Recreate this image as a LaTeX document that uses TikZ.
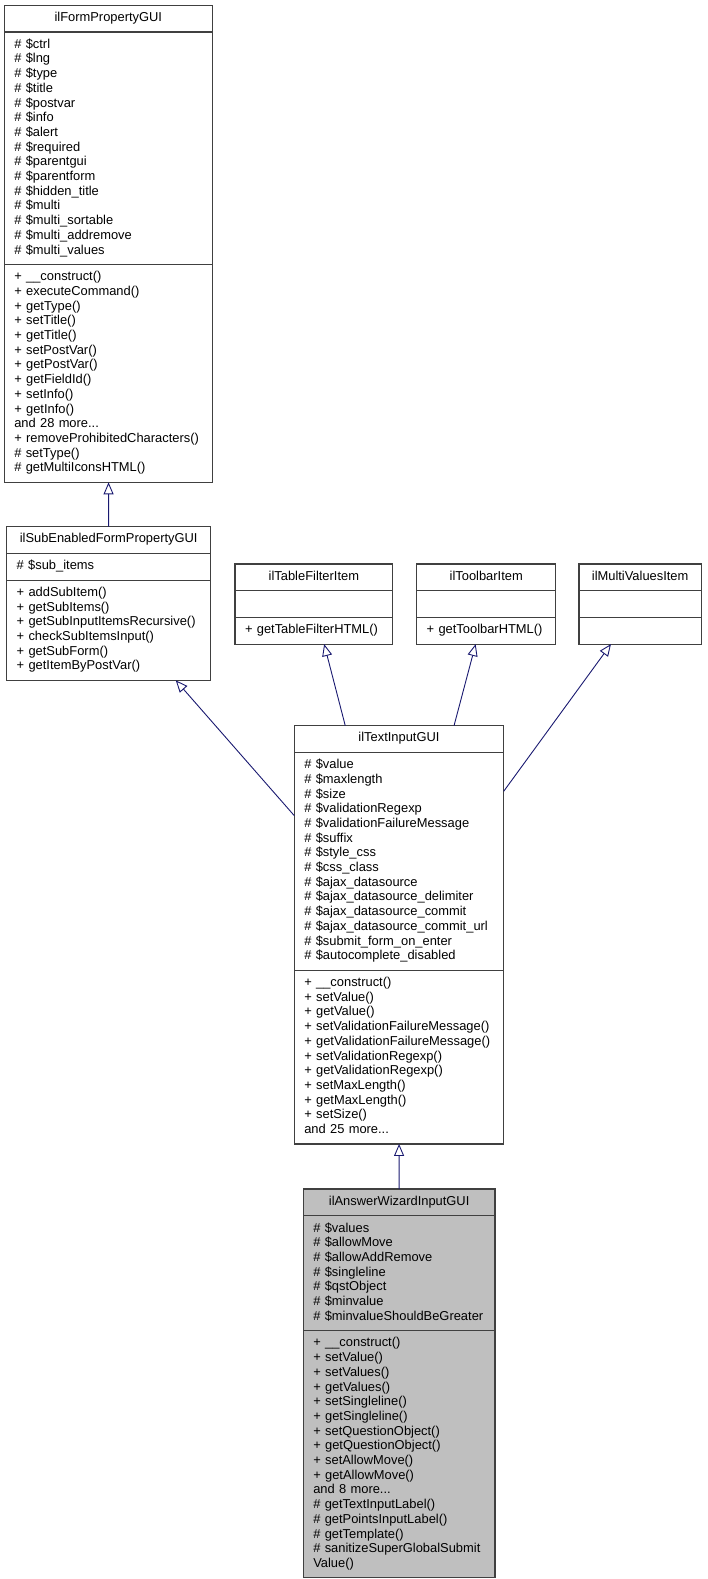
\documentclass[tikz,border=0pt]{standalone}
\usepackage{fontspec}
\setmainfont{Liberation Sans}
\usetikzlibrary{arrows.meta,shapes.multipart}
\definecolor{edgeblue}{RGB}{25,25,112}
\definecolor{boxgrey}{RGB}{191,191,191}
\definecolor{framegrey}{RGB}{64,64,64}
\newcommand{\members}[1]{\strut#1\strut}
\newcommand{\classname}[1]{\makebox[\hsize]{\strut#1}}

\begin{document}
\begin{tikzpicture}[
  x=1pt,y=-1pt,
  classbox/.style={draw=framegrey,line width=1.2pt,rectangle split,rectangle split parts=3,anchor=north west,outer sep=0pt,inner xsep=10pt,inner ysep=5.4pt,align=left,font=\fontsize{12.9}{14.7}\selectfont},
  leafbox/.style={classbox,fill=boxgrey},
  inherit/.style={-{Triangle[open,length=12pt,width=10pt]},edgeblue,line width=0.9pt}
]
\useasboundingbox (0,0) rectangle (707,1579);

% base classes
\node[classbox,text width=188pt] (formprop) at (4.3,5.3) {\classname{ilFormPropertyGUI}
  \nodepart{two}\members{\# \$ctrl\\\# \$lng\\\# \$type\\\# \$title\\\# \$postvar\\\# \$info\\\# \$alert\\\# \$required\\\# \$parentgui\\\# \$parentform\\\# \$hidden\_title\\\# \$multi\\\# \$multi\_sortable\\\# \$multi\_addremove\\\# \$multi\_values}
  \nodepart{three}\members{+ \_\_construct()\\+ executeCommand()\\+ getType()\\+ setTitle()\\+ getTitle()\\+ setPostVar()\\+ getPostVar()\\+ getFieldId()\\+ setInfo()\\+ getInfo()\\and 28 more...\\+ removeProhibitedCharacters()\\\# setType()\\\# getMultiIconsHTML()}};
\node[classbox,text width=184pt] (subenabled) at (6.7,526.7) {\classname{ilSubEnabledFormPropertyGUI}
  \nodepart{two}\members{\# \$sub\_items}
  \nodepart{three}\members{+ addSubItem()\\+ getSubItems()\\+ getSubInputItemsRecursive()\\+ checkSubItemsInput()\\+ getSubForm()\\+ getItemByPostVar()}};
\node[classbox,text width=137.7pt] (tablefilter) at (235,564) {\classname{ilTableFilterItem}
  \nodepart{two}\strut
  \nodepart{three}\members{+ getTableFilterHTML()}};
\node[classbox,text width=119pt] (toolbar) at (416.7,564) {\classname{ilToolbarItem}
  \nodepart{two}\strut
  \nodepart{three}\members{+ getToolbarHTML()}};
\node[classbox,text width=102.3pt] (multivalues) at (579,564) {\classname{ilMultiValuesItem}
  \nodepart{two}\strut
  \nodepart{three}\strut};

% derived classes
\node[classbox,text width=189.4pt] (textinput) at (294.3,725.7) {\classname{ilTextInputGUI}
  \nodepart{two}\members{\# \$value\\\# \$maxlength\\\# \$size\\\# \$validationRegexp\\\# \$validationFailureMessage\\\# \$suffix\\\# \$style\_css\\\# \$css\_class\\\# \$ajax\_datasource\\\# \$ajax\_datasource\_delimiter\\\# \$ajax\_datasource\_commit\\\# \$ajax\_datasource\_commit\_url\\\# \$submit\_form\_on\_enter\\\# \$autocomplete\_disabled}
  \nodepart{three}\members{+ \_\_construct()\\+ setValue()\\+ getValue()\\+ setValidationFailureMessage()\\+ getValidationFailureMessage()\\+ setValidationRegexp()\\+ getValidationRegexp()\\+ setMaxLength()\\+ getMaxLength()\\+ setSize()\\and 25 more...}};
\node[leafbox,text width=171.7pt] (answerwizard) at (303.3,1189) {\classname{ilAnswerWizardInputGUI}
  \nodepart{two}\members{\# \$values\\\# \$allowMove\\\# \$allowAddRemove\\\# \$singleline\\\# \$qstObject\\\# \$minvalue\\\# \$minvalueShouldBeGreater}
  \nodepart{three}\members{+ \_\_construct()\\+ setValue()\\+ setValues()\\+ getValues()\\+ setSingleline()\\+ getSingleline()\\+ setQuestionObject()\\+ getQuestionObject()\\+ setAllowMove()\\+ getAllowMove()\\and 8 more...\\\# getTextInputLabel()\\\# getPointsInputLabel()\\\# getTemplate()\\\# sanitizeSuperGlobalSubmit\\Value()}};

% inheritance
\draw[inherit] (subenabled) -- (formprop);
\draw[inherit] (textinput) -- (subenabled);
\draw[inherit] (textinput) -- (tablefilter);
\draw[inherit] (textinput) -- (toolbar);
\draw[inherit] (textinput) -- (multivalues);
\draw[inherit] (answerwizard) -- (textinput);
\end{tikzpicture}
\end{document}
